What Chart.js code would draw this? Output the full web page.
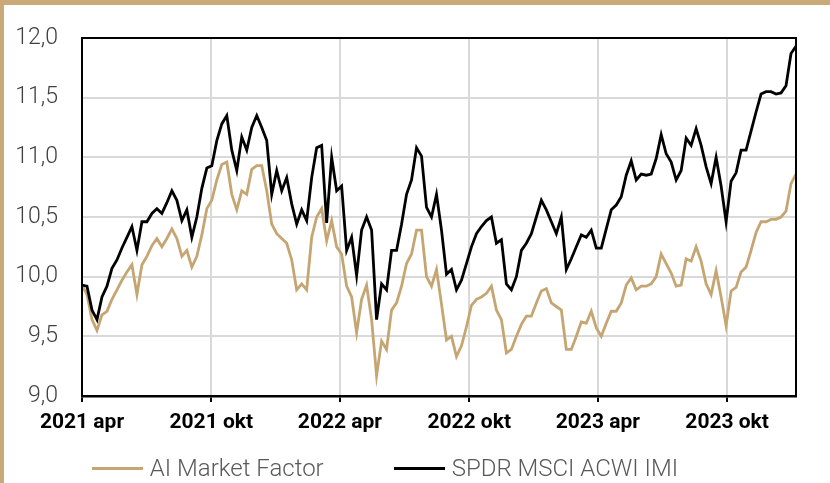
<!DOCTYPE html>
<html>
<head>
<meta charset="utf-8">
<script src="https://cdn.jsdelivr.net/npm/chart.js@4.4.1/dist/chart.umd.min.js"></script>
<style>
  html, body { margin: 0; padding: 0; background: #fff; overflow: hidden; }
  #wrap { position: relative; width: 830px; height: 483px; }
  #legend {
    position: absolute; left: -13px; top: 454px; width: 796px;
    display: flex; justify-content: center; gap: 70px;
    font-family: Roboto, sans-serif; font-weight: 300; font-size: 24px; color: #595959;
  }
  #legend .item { display: flex; align-items: center; }
  #legend .swatch { display: inline-block; width: 51px; height: 3px; margin-right: 7px; }
</style>
</head>
<body>
<div id="wrap">
  <canvas id="chart"></canvas>
  <div id="legend"></div>
</div>
<script>
// weekly readings starting 2021-04-01
const stepDays = 7.066;
const tickDays = [0, 183, 365, 548, 730, 913];
const tickLabels = ["2021 apr", "2021 okt", "2022 apr", "2022 okt", "2023 apr", "2023 okt"];

const aiMarketFactor = [
  9.93, 9.85, 9.64, 9.55, 9.68, 9.71, 9.81, 9.89, 9.97, 10.04,
  10.10, 9.85, 10.10, 10.17, 10.26, 10.32, 10.25, 10.32, 10.40, 10.32,
  10.17, 10.22, 10.08, 10.17, 10.35, 10.57, 10.64, 10.81, 10.94, 10.96,
  10.69, 10.56, 10.72, 10.69, 10.90, 10.93, 10.93, 10.72, 10.44, 10.36,
  10.32, 10.28, 10.14, 9.89, 9.94, 9.89, 10.33, 10.50, 10.57, 10.30,
  10.47, 10.25, 10.19, 9.92, 9.83, 9.53, 9.81, 9.93, 9.64, 9.17,
  9.46, 9.39, 9.72, 9.78, 9.92, 10.11, 10.19, 10.39, 10.39, 10.00,
  9.92, 10.06, 9.77, 9.47, 9.50, 9.33, 9.42, 9.58, 9.76, 9.81,
  9.83, 9.86, 9.92, 9.72, 9.64, 9.36, 9.39, 9.50, 9.60, 9.67,
  9.67, 9.78, 9.88, 9.90, 9.78, 9.75, 9.72, 9.39, 9.39, 9.50,
  9.62, 9.61, 9.71, 9.57, 9.50, 9.61, 9.71, 9.71, 9.78, 9.93,
  9.99, 9.89, 9.92, 9.92, 9.94, 10.00, 10.19, 10.11, 10.03, 9.92,
  9.93, 10.15, 10.13, 10.25, 10.13, 9.94, 9.85, 10.05, 9.83, 9.59,
  9.88, 9.91, 10.04, 10.08, 10.22, 10.37, 10.46, 10.46, 10.48, 10.48,
  10.50, 10.55, 10.78, 10.86
];

const spdrAcwiImi = [
  9.93, 9.92, 9.72, 9.64, 9.83, 9.92, 10.07, 10.14, 10.24, 10.33,
  10.42, 10.22, 10.46, 10.46, 10.53, 10.57, 10.53, 10.62, 10.72, 10.64,
  10.47, 10.56, 10.33, 10.50, 10.74, 10.91, 10.93, 11.14, 11.28, 11.35,
  11.06, 10.89, 11.17, 11.06, 11.25, 11.35, 11.25, 11.14, 10.69, 10.89,
  10.72, 10.83, 10.61, 10.44, 10.56, 10.47, 10.83, 11.08, 11.10, 10.45,
  11.00, 10.72, 10.76, 10.22, 10.33, 10.01, 10.39, 10.50, 10.39, 9.64,
  9.94, 9.89, 10.22, 10.22, 10.44, 10.69, 10.81, 11.08, 11.01, 10.58,
  10.50, 10.69, 10.39, 10.02, 10.06, 9.89, 9.97, 10.11, 10.25, 10.36,
  10.42, 10.47, 10.50, 10.28, 10.31, 9.94, 9.89, 10.00, 10.22, 10.28,
  10.36, 10.50, 10.64, 10.56, 10.46, 10.36, 10.50, 10.06, 10.15, 10.25,
  10.35, 10.33, 10.39, 10.24, 10.24, 10.40, 10.56, 10.60, 10.67, 10.85,
  10.97, 10.81, 10.86, 10.85, 10.86, 10.99, 11.19, 11.03, 10.96, 10.81,
  10.89, 11.16, 11.10, 11.24, 11.10, 10.92, 10.78, 11.00, 10.76, 10.46,
  10.80, 10.87, 11.06, 11.06, 11.22, 11.38, 11.53, 11.55, 11.55, 11.53,
  11.54, 11.60, 11.87, 11.93
];

const tan = '#c5a572';
const toPoints = (vals) => vals.map((v, i) => ({ x: i * stepDays, y: v }));

// tan page frame + black box around the plot
const framePlugin = {
  id: 'frame',
  beforeDraw(chart) {
    const ctx = chart.ctx;
    ctx.save();
    ctx.fillStyle = '#fff';
    ctx.fillRect(0, 0, chart.width, chart.height);
    ctx.fillStyle = '#c9a978';
    ctx.fillRect(0, 0, chart.width, 5);
    ctx.fillRect(0, 0, 4, chart.height);
    ctx.restore();
  },
  afterDatasetsDraw(chart) {
    const { left, top, right, bottom } = chart.chartArea;
    const ctx = chart.ctx;
    ctx.save();
    ctx.strokeStyle = '#000';
    ctx.lineWidth = 2;
    ctx.strokeRect(left, top, right - left, bottom - top);
    ctx.restore();
  }
};

const chart = new Chart(document.getElementById('chart'), {
  type: 'line',
  data: {
    datasets: [
      {
        label: 'SPDR MSCI ACWI IMI',
        data: toPoints(spdrAcwiImi),
        borderColor: '#000',
        backgroundColor: '#000',
        borderWidth: 2.8,
        pointRadius: 0,
        tension: 0
      },
      {
        label: 'AI Market Factor',
        data: toPoints(aiMarketFactor),
        borderColor: tan,
        backgroundColor: tan,
        borderWidth: 2.8,
        pointRadius: 0,
        tension: 0
      }
    ]
  },
  options: {
    responsive: true,
    maintainAspectRatio: false,
    animation: false,
    layout: { padding: { top: 38, right: 34, bottom: 0, left: 0 } },
    scales: {
      x: {
        type: 'linear',
        min: 0,
        max: (spdrAcwiImi.length - 1) * stepDays,
        afterBuildTicks: (scale) => {
          scale.ticks = tickDays.map((d) => ({ value: d }));
        },
        afterFit: (scale) => { scale.height = 87; },
        grid: {
          color: '#d9d9d9',
          lineWidth: 2,
          tickColor: '#000',
          tickLength: 6,
          tickWidth: 2
        },
        border: { color: '#000', width: 2.5 },
        ticks: {
          autoSkip: false,
          maxRotation: 0,
          padding: 8,
          color: '#000',
          font: { family: 'Roboto', size: 21, weight: 'bold' },
          callback: (value, index) => tickLabels[index]
        }
      },
      y: {
        min: 9,
        max: 12,
        afterFit: (scale) => { scale.width = 82; },
        grid: { color: '#d9d9d9', lineWidth: 2, drawTicks: false },
        border: { color: '#000', width: 2 },
        ticks: {
          stepSize: 0.5,
          padding: 24,
          color: '#404040',
          font: { family: 'Roboto', size: 23, weight: '300' },
          callback: (value) => value.toFixed(1).replace('.', ',')
        }
      }
    },
    plugins: {
      legend: { display: false },
      tooltip: { enabled: false }
    }
  },
  plugins: [framePlugin]
});

// legend below the chart, AI Market Factor first
const legendEl = document.getElementById('legend');
[...chart.data.datasets].reverse().forEach((ds) => {
  const item = document.createElement('div');
  item.className = 'item';
  const sw = document.createElement('span');
  sw.className = 'swatch';
  sw.style.background = ds.borderColor;
  const txt = document.createElement('span');
  txt.textContent = ds.label;
  item.appendChild(sw);
  item.appendChild(txt);
  legendEl.appendChild(item);
});
</script>
</body>
</html>
